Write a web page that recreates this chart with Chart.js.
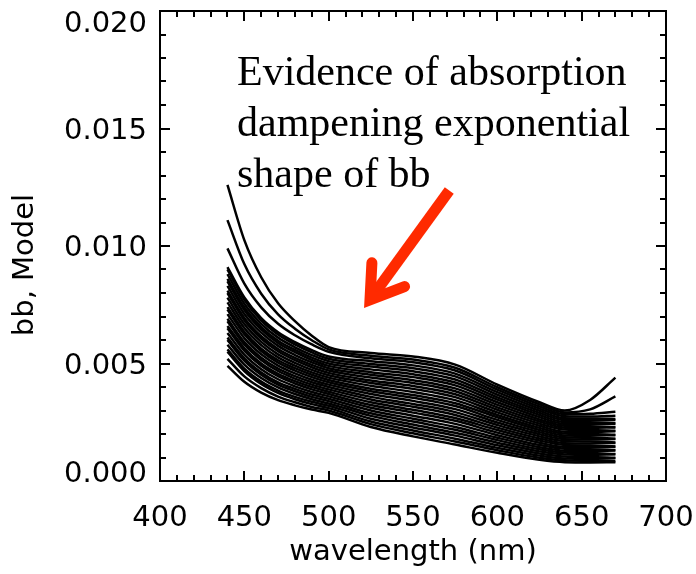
<!DOCTYPE html>
<html>
<head>
<meta charset="utf-8">
<title>bb, Model</title>
<script src="https://cdn.jsdelivr.net/npm/chart.js@4/dist/chart.umd.min.js"></script>
<style>
  html, body { margin: 0; padding: 0; background: #fff; }
  canvas { display: block; }
</style>
</head>
<body>
<canvas id="c" width="696" height="574"></canvas>
<script>
// Wavelengths (nm) at which each modelled backscattering spectrum is sampled
const wavelengths = [440, 450, 460, 470, 480, 490, 500, 525, 550, 575, 600, 625, 640, 655, 670];

// Modelled bb spectra, one array per station
const run01 = [0.01260, 0.01025, 0.00867, 0.00756, 0.00680, 0.00618, 0.00570, 0.00545, 0.00530, 0.00495, 0.00410, 0.00335, 0.00300, 0.00345, 0.00440];
const run02 = [0.01110, 0.00923, 0.00797, 0.00709, 0.00648, 0.00599, 0.00560, 0.00533, 0.00517, 0.00482, 0.00399, 0.00326, 0.00292, 0.00305, 0.00360];
const run03 = [0.00990, 0.00840, 0.00739, 0.00669, 0.00620, 0.00581, 0.00550, 0.00522, 0.00505, 0.00470, 0.00389, 0.00317, 0.00284, 0.00286, 0.00295];
const run04 = [0.00910, 0.00781, 0.00693, 0.00633, 0.00591, 0.00557, 0.00530, 0.00510, 0.00492, 0.00457, 0.00378, 0.00308, 0.00276, 0.00274, 0.00278];
const run05 = [0.00900, 0.00771, 0.00683, 0.00623, 0.00581, 0.00547, 0.00520, 0.00498, 0.00480, 0.00445, 0.00367, 0.00299, 0.00267, 0.00266, 0.00264];
const run06 = [0.00880, 0.00754, 0.00669, 0.00610, 0.00569, 0.00536, 0.00510, 0.00487, 0.00467, 0.00432, 0.00356, 0.00290, 0.00259, 0.00258, 0.00260];
const run07 = [0.00860, 0.00738, 0.00655, 0.00597, 0.00558, 0.00525, 0.00500, 0.00475, 0.00454, 0.00419, 0.00346, 0.00281, 0.00251, 0.00250, 0.00246];
const run08 = [0.00850, 0.00728, 0.00645, 0.00587, 0.00548, 0.00515, 0.00490, 0.00463, 0.00442, 0.00407, 0.00335, 0.00272, 0.00243, 0.00242, 0.00244];
const run09 = [0.00830, 0.00711, 0.00631, 0.00575, 0.00536, 0.00505, 0.00480, 0.00452, 0.00429, 0.00394, 0.00324, 0.00262, 0.00235, 0.00233, 0.00230];
const run10 = [0.00810, 0.00694, 0.00616, 0.00562, 0.00524, 0.00494, 0.00470, 0.00440, 0.00417, 0.00382, 0.00313, 0.00253, 0.00227, 0.00226, 0.00228];
const run11 = [0.00800, 0.00684, 0.00606, 0.00552, 0.00514, 0.00484, 0.00460, 0.00428, 0.00404, 0.00369, 0.00303, 0.00244, 0.00219, 0.00217, 0.00214];
const run12 = [0.00780, 0.00668, 0.00592, 0.00539, 0.00503, 0.00473, 0.00450, 0.00417, 0.00392, 0.00357, 0.00292, 0.00235, 0.00210, 0.00209, 0.00212];
const run13 = [0.00760, 0.00651, 0.00578, 0.00526, 0.00491, 0.00462, 0.00440, 0.00405, 0.00379, 0.00344, 0.00281, 0.00226, 0.00202, 0.00200, 0.00197];
const run14 = [0.00740, 0.00635, 0.00563, 0.00514, 0.00480, 0.00452, 0.00430, 0.00393, 0.00366, 0.00331, 0.00271, 0.00217, 0.00194, 0.00193, 0.00195];
const run15 = [0.00730, 0.00625, 0.00553, 0.00504, 0.00470, 0.00442, 0.00420, 0.00382, 0.00354, 0.00319, 0.00260, 0.00208, 0.00186, 0.00184, 0.00180];
const run16 = [0.00710, 0.00608, 0.00539, 0.00491, 0.00458, 0.00431, 0.00410, 0.00370, 0.00341, 0.00306, 0.00249, 0.00199, 0.00178, 0.00177, 0.00179];
const run17 = [0.00690, 0.00591, 0.00525, 0.00478, 0.00446, 0.00420, 0.00400, 0.00358, 0.00328, 0.00293, 0.00238, 0.00190, 0.00170, 0.00168, 0.00164];
const run18 = [0.00680, 0.00581, 0.00515, 0.00468, 0.00436, 0.00410, 0.00390, 0.00347, 0.00316, 0.00281, 0.00227, 0.00181, 0.00161, 0.00160, 0.00162];
const run19 = [0.00660, 0.00565, 0.00500, 0.00456, 0.00425, 0.00400, 0.00380, 0.00335, 0.00303, 0.00268, 0.00217, 0.00172, 0.00153, 0.00151, 0.00147];
const run20 = [0.00650, 0.00555, 0.00490, 0.00446, 0.00415, 0.00390, 0.00370, 0.00323, 0.00291, 0.00256, 0.00206, 0.00163, 0.00145, 0.00144, 0.00146];
const run21 = [0.00630, 0.00538, 0.00476, 0.00433, 0.00403, 0.00379, 0.00360, 0.00312, 0.00278, 0.00243, 0.00195, 0.00153, 0.00137, 0.00135, 0.00132];
const run22 = [0.00610, 0.00522, 0.00462, 0.00420, 0.00392, 0.00368, 0.00350, 0.00300, 0.00265, 0.00230, 0.00184, 0.00144, 0.00129, 0.00128, 0.00130];
const run23 = [0.00600, 0.00512, 0.00452, 0.00410, 0.00382, 0.00358, 0.00340, 0.00288, 0.00253, 0.00218, 0.00174, 0.00135, 0.00121, 0.00119, 0.00115];
const run24 = [0.00580, 0.00495, 0.00438, 0.00398, 0.00370, 0.00348, 0.00330, 0.00277, 0.00240, 0.00205, 0.00163, 0.00126, 0.00113, 0.00112, 0.00114];
const run25 = [0.00560, 0.00478, 0.00423, 0.00385, 0.00358, 0.00337, 0.00320, 0.00265, 0.00228, 0.00193, 0.00152, 0.00117, 0.00104, 0.00102, 0.00099];
const run26 = [0.00550, 0.00468, 0.00413, 0.00375, 0.00348, 0.00327, 0.00310, 0.00253, 0.00215, 0.00180, 0.00141, 0.00108, 0.00096, 0.00095, 0.00097];
const run27 = [0.00520, 0.00445, 0.00395, 0.00359, 0.00335, 0.00315, 0.00300, 0.00242, 0.00203, 0.00168, 0.00131, 0.00099, 0.00088, 0.00086, 0.00084];
const run28 = [0.00490, 0.00422, 0.00376, 0.00344, 0.00322, 0.00304, 0.00290, 0.00230, 0.00190, 0.00155, 0.00120, 0.00090, 0.00080, 0.00079, 0.00080];

const runs = [run01, run02, run03, run04, run05, run06, run07, run08, run09, run10,
              run11, run12, run13, run14, run15, run16, run17, run18, run19, run20,
              run21, run22, run23, run24, run25, run26, run27, run28];

// Axis ticks and their labels
const xTickValues = [400, 450, 500, 550, 600, 650, 700];
const xTickLabels = ['400', '450', '500', '550', '600', '650', '700'];
const yTickValues = [0.000, 0.005, 0.010, 0.015, 0.020];
const yTickLabels = ['0.000', '0.005', '0.010', '0.015', '0.020'];
const xMinorStep = 10;
const yMinorStep = 0.001;

const xTitle = 'wavelength (nm)';
const yTitle = 'bb, Model';
const noteLines = ['Evidence of absorption', 'dampening exponential', 'shape of bb'];

const AXIS_FONT = '29px "DejaVu Sans", sans-serif';
const NOTE_FONT = '42px "Liberation Serif", "Times New Roman", serif';

// Plot frame with inward ticks on all four sides, tick labels and titles
const framePlugin = {
  id: 'frame',
  afterDatasetsDraw(chart) {
    const { ctx, chartArea: a, scales: { x, y } } = chart;
    ctx.save();
    ctx.strokeStyle = '#000';
    ctx.lineWidth = 2;
    ctx.lineCap = 'butt';
    ctx.strokeRect(a.left, a.top, a.right - a.left, a.bottom - a.top);

    const isMajor = (v, step) => Math.abs(v / step - Math.round(v / step)) < 1e-6;
    ctx.beginPath();
    for (let v = x.min; v <= x.max + 1e-9; v += xMinorStep) {
      const px = Math.round(x.getPixelForValue(v));
      const len = isMajor(v, 50) ? 10 : 6;
      ctx.moveTo(px, a.bottom); ctx.lineTo(px, a.bottom - len);
      ctx.moveTo(px, a.top); ctx.lineTo(px, a.top + len);
    }
    for (let i = 0; i <= Math.round((y.max - y.min) / yMinorStep); i++) {
      const v = y.min + i * yMinorStep;
      const py = Math.round(y.getPixelForValue(v));
      const len = (i % 5 === 0) ? 10 : 6;
      ctx.moveTo(a.left, py); ctx.lineTo(a.left + len, py);
      ctx.moveTo(a.right, py); ctx.lineTo(a.right - len, py);
    }
    ctx.stroke();

    ctx.fillStyle = '#000';
    ctx.font = AXIS_FONT;
    ctx.textBaseline = 'alphabetic';
    ctx.textAlign = 'center';
    xTickValues.forEach((v, i) => {
      ctx.fillText(xTickLabels[i], x.getPixelForValue(v), a.bottom + 45);
    });
    ctx.textAlign = 'right';
    yTickValues.forEach((v, i) => {
      let py = y.getPixelForValue(v) + 10;
      if (i === 0) py -= 9;                       // keep end labels inside the frame height
      if (i === yTickValues.length - 1) py += 11;
      ctx.fillText(yTickLabels[i], a.left - 13, py);
    });

    ctx.textAlign = 'center';
    ctx.fillText(xTitle, (a.left + a.right) / 2, a.bottom + 79);
    ctx.save();
    ctx.translate(33, 265);
    ctx.rotate(-Math.PI / 2);
    ctx.fillText(yTitle, 0, 0);
    ctx.restore();

    // Annotation text
    ctx.font = NOTE_FONT;
    ctx.textAlign = 'left';
    noteLines.forEach((t, i) => ctx.fillText(t, 237, 85 + i * 51));

    // Red arrow pointing at the flattened part of the spectra
    const head = { x: x.getPixelForValue(524.5), y: y.getPixelForValue(0.00771) };
    const tail = { x: x.getPixelForValue(571.5), y: y.getPixelForValue(0.01236) };
    const ang = Math.atan2(tail.y - head.y, tail.x - head.x);
    const wing = 37, spread = 33 * Math.PI / 180;
    ctx.strokeStyle = '#ff2a00';
    ctx.lineWidth = 11;
    ctx.lineCap = 'butt';
    ctx.beginPath();
    ctx.moveTo(tail.x, tail.y);
    ctx.lineTo(head.x, head.y);
    ctx.stroke();
    ctx.lineCap = 'round';
    ctx.lineJoin = 'miter';
    ctx.miterLimit = 10;
    ctx.beginPath();
    ctx.moveTo(head.x + wing * Math.cos(ang - spread), head.y + wing * Math.sin(ang - spread));
    ctx.lineTo(head.x, head.y);
    ctx.lineTo(head.x + wing * Math.cos(ang + spread), head.y + wing * Math.sin(ang + spread));
    ctx.stroke();
    ctx.restore();
  }
};

const whiteBackground = {
  id: 'whiteBackground',
  beforeDraw(chart) {
    const { ctx, width, height } = chart;
    ctx.save();
    ctx.fillStyle = '#fff';
    ctx.fillRect(0, 0, width, height);
    ctx.restore();
  }
};

new Chart(document.getElementById('c'), {
  type: 'line',
  data: {
    datasets: runs.map((r, k) => ({
      label: 'run ' + (k + 1),
      data: wavelengths.map((w, i) => ({ x: w, y: r[i] })),
      borderColor: '#000',
      borderWidth: 2.5,
      pointRadius: 0,
      fill: false,
      cubicInterpolationMode: 'monotone'
    }))
  },
  options: {
    responsive: false,
    devicePixelRatio: 1,
    animation: false,
    layout: { padding: { left: 160, top: 11, right: 30, bottom: 93 } },
    scales: {
      x: { type: 'linear', min: 400, max: 700, display: false },
      y: { type: 'linear', min: 0, max: 0.02, display: false }
    },
    plugins: { legend: { display: false }, tooltip: { enabled: false } }
  },
  plugins: [whiteBackground, framePlugin]
});
</script>
</body>
</html>
